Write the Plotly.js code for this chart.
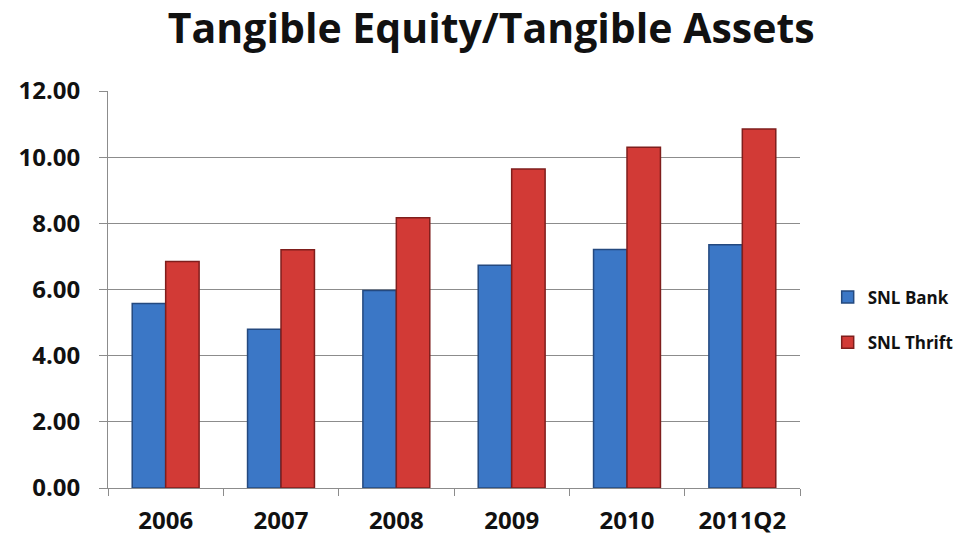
<!DOCTYPE html>
<html>
<head>
<meta charset="utf-8">
<script src="https://cdn.plot.ly/plotly-3.0.1.min.js"></script>
<style>html,body{margin:0;padding:0;background:#fff;}#chart{width:967px;height:546px;}</style>
</head>
<body>
<div id="chart"></div>
<script>
const categories = ["2006", "2007", "2008", "2009", "2010", "2011Q2"];
const bankValues = [5.58, 4.80, 5.97, 6.73, 7.21, 7.35];
const thriftValues = [6.85, 7.20, 8.17, 9.64, 10.30, 10.85];
const yTicks = [0, 2, 4, 6, 8, 10, 12];
const yTickLabels = ["0.00", "2.00", "4.00", "6.00", "8.00", "10.00", "12.00"];

const FONT = "'Open Sans', Lato, sans-serif";

const traces = [
  {
    type: "bar", name: "SNL Bank", x: categories, y: bankValues,
    legendgroup: "a",
    marker: { color: "#3b77c6", line: { color: "#24497f", width: 1.5 } },
    hoverinfo: "x+y"
  },
  {
    type: "bar", name: "SNL Thrift", x: categories, y: thriftValues,
    legendgroup: "b",
    marker: { color: "#d23a36", line: { color: "#7f1e1c", width: 1.5 } },
    hoverinfo: "x+y"
  }
];

const layout = {
  width: 967, height: 546,
  paper_bgcolor: "#ffffff", plot_bgcolor: "#ffffff",
  margin: { l: 108, r: 167, t: 91, b: 58, autoexpand: false },
  title: {
    text: "<b>Tangible Equity/Tangible Assets</b>",
    font: { family: FONT, size: 41, color: "#111111" },
    x: 0.508, xanchor: "center", y: 0.948, yanchor: "middle"
  },
  barmode: "group",
  bargap: 0.42, bargroupgap: 0,
  xaxis: {
    type: "category",
    showline: true, linecolor: "#8c8c8c", linewidth: 1,
    ticks: "outside", tickson: "boundaries", ticklen: 7, tickcolor: "#8c8c8c",
    showgrid: false,
    tickfont: { family: FONT, size: 24, color: "#111111", weight: "bold" },
    ticklabelstandoff: 11
  },
  yaxis: {
    range: [0, 12],
    tickvals: yTicks, ticktext: yTickLabels,
    showline: true, linecolor: "#8c8c8c", linewidth: 1,
    ticks: "outside", ticklen: 8, tickcolor: "#8c8c8c",
    showgrid: true, gridcolor: "#8c8c8c", gridwidth: 1,
    zeroline: false,
    tickfont: { family: FONT, size: 24, color: "#111111", weight: "bold" },
    ticklabelstandoff: 14
  },
  legend: {
    x: 1.04, xanchor: "left", y: 0.423, yanchor: "middle",
    font: { family: FONT, size: 17, color: "#111111", weight: "bold" },
    tracegroupgap: 20,
    itemwidth: 30,
    bgcolor: "rgba(0,0,0,0)"
  },
  showlegend: true
};

Plotly.newPlot("chart", traces, layout, { staticPlot: true, displayModeBar: false });
</script>
</body>
</html>
